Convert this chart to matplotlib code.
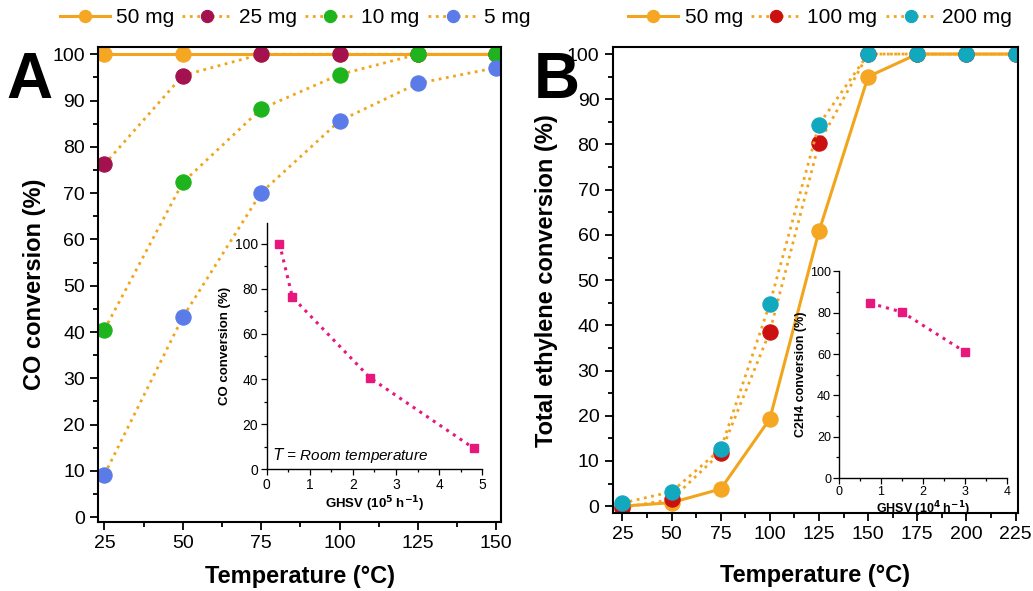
import matplotlib.pyplot as plt
from matplotlib.ticker import MultipleLocator

plt.rcParams['font.family'] = ['Liberation Sans', 'DejaVu Sans']

# panel A data
temp_a = [25, 50, 75, 100, 125, 150]
co_50mg = [100, 100, 100, 100, 100, 100]
co_25mg = [76.2, 95.4, 100, 100, 100, 100]
co_10mg = [40.5, 72.3, 88.2, 95.6, 100, 100]
co_5mg = [9.2, 43.2, 70.1, 85.6, 93.7, 97.1]

# inset A
ghsv_a = [0.3, 0.6, 2.4, 4.8]
co_ghsv = [100, 76.3, 40.5, 9.3]

# panel B data
temp_b = [25, 50, 75, 100, 125, 150, 175, 200, 225]
eth_50mg = [0, 0.8, 3.8, 19.3, 60.8, 95, 100, 100, 100]
eth_100mg = [-0.3, 1.5, 11.8, 38.6, 80.3, 100, 100, 100, 100]
eth_200mg = [0.7, 3.2, 12.6, 44.8, 84.4, 100, 100, 100, 100]

# inset B
ghsv_b = [0.75, 1.5, 3.0]
c2h4_ghsv = [84.5, 80.3, 61]

orange = "#F5A623"
line_orange = "#F2A51C"
pink = "#E8177D"

fig = plt.figure(figsize=(10.33, 5.91), dpi=100)
axA = fig.add_axes([0.095, 0.117, 0.390, 0.803])
axB = fig.add_axes([0.593, 0.132, 0.392, 0.788])


def style_main(ax):
    for s in ax.spines.values():
        s.set_linewidth(1.5)
    ax.tick_params(which="both", direction="out", width=1.3, labelsize=14, top=False, right=False)
    ax.tick_params(which="major", length=6)
    ax.tick_params(which="minor", length=3.5)


# ---- panel A
series_a = [(co_50mg, "50 mg", orange, "-"),
            (co_25mg, "25 mg", "#A3124F", ":"),
            (co_10mg, "10 mg", "#1EB41E", ":"),
            (co_5mg, "5 mg", "#5B7BE8", ":")]
for ys, lab, c, ls in series_a:
    axA.plot(temp_a, ys, ls=ls, color=line_orange, lw=2.2 if ls == "-" else 2.0,
             marker="o", ms=11, mfc=c, mec=c, mew=0.8, label=lab)
axA.set_xlim(23, 151.5)
axA.set_ylim(-1, 101.5)
axA.xaxis.set_major_locator(MultipleLocator(25))
axA.xaxis.set_minor_locator(MultipleLocator(12.5))
axA.yaxis.set_major_locator(MultipleLocator(10))
axA.yaxis.set_minor_locator(MultipleLocator(5))
style_main(axA)
axA.set_xlabel("Temperature (°C)", fontsize=17, fontweight="bold")
axA.set_ylabel("CO conversion (%)", fontsize=17, fontweight="bold")
axA.yaxis.set_label_coords(-0.13, 0.5)
axA.xaxis.set_label_coords(0.5, -0.09)
axA.legend(loc="lower left", bbox_to_anchor=(-0.145, 1.0), ncol=4, frameon=False,
           fontsize=15, handlelength=2.4, columnspacing=0.4, handletextpad=0.3,
           markerscale=0.8, borderaxespad=0.55)

# ---- panel B
series_b = [(eth_50mg, "50 mg", orange, "-"),
            (eth_100mg, "100 mg", "#CC1010", ":"),
            (eth_200mg, "200 mg", "#12A8BE", ":")]
for ys, lab, c, ls in series_b:
    axB.plot(temp_b, ys, ls=ls, color=line_orange, lw=2.2 if ls == "-" else 2.0,
             marker="o", ms=11, mfc=c, mec=c, mew=0.8, label=lab)
axB.set_xlim(20, 226)
axB.set_ylim(-1.5, 101.5)
axB.xaxis.set_major_locator(MultipleLocator(25))
axB.xaxis.set_minor_locator(MultipleLocator(12.5))
axB.yaxis.set_major_locator(MultipleLocator(10))
axB.yaxis.set_minor_locator(MultipleLocator(5))
style_main(axB)
axB.set_xlabel("Temperature (°C)", fontsize=17, fontweight="bold")
axB.set_ylabel("Total ethylene conversion (%)", fontsize=17, fontweight="bold")
axB.yaxis.set_label_coords(-0.135, 0.5)
axB.xaxis.set_label_coords(0.5, -0.11)
axB.legend(loc="lower left", bbox_to_anchor=(-0.01, 1.0), ncol=3, frameon=False,
           fontsize=15, handlelength=2.4, columnspacing=0.4, handletextpad=0.3,
           markerscale=0.8, borderaxespad=0.55)


def style_inset(ax):
    ax.spines["top"].set_visible(False)
    ax.spines["right"].set_visible(False)
    for s in ("left", "bottom"):
        ax.spines[s].set_linewidth(1.0)
    ax.tick_params(which="both", direction="out", labelsize=10, width=0.9, pad=2)
    ax.tick_params(which="major", length=4)
    ax.tick_params(which="minor", length=2.5)
    ax.patch.set_alpha(0)


# ---- inset A
insA = fig.add_axes([0.258, 0.206, 0.209, 0.416])
insA.plot(ghsv_a, co_ghsv, ls=":", color=pink, lw=2.2, marker="s", ms=6, mfc=pink, mec=pink)
insA.set_xlim(0, 5)
insA.set_ylim(0, 109)
insA.xaxis.set_major_locator(MultipleLocator(1))
insA.xaxis.set_minor_locator(MultipleLocator(0.5))
insA.yaxis.set_major_locator(MultipleLocator(20))
insA.yaxis.set_minor_locator(MultipleLocator(10))
style_inset(insA)
insA.set_xlabel("GHSV (10$^\\mathbf{5}$ h$^\\mathbf{-1}$)", fontsize=9.5, fontweight="bold", labelpad=2)
insA.set_ylabel("CO conversion (%)", fontsize=9.5, fontweight="bold", labelpad=3)
insA.text(0.15, 4, "$T$ = Room temperature", fontsize=11, style="italic")

# ---- inset B
insB = fig.add_axes([0.812, 0.191, 0.163, 0.350])
insB.plot(ghsv_b, c2h4_ghsv, ls=":", color=pink, lw=2.2, marker="s", ms=6, mfc=pink, mec=pink)
insB.set_xlim(0, 4)
insB.set_ylim(0, 100)
insB.xaxis.set_major_locator(MultipleLocator(1))
insB.xaxis.set_minor_locator(MultipleLocator(0.5))
insB.yaxis.set_major_locator(MultipleLocator(20))
insB.yaxis.set_minor_locator(MultipleLocator(10))
style_inset(insB)
insB.tick_params(labelsize=9, pad=1.5)
insB.set_xlabel("GHSV (10$^\\mathbf{4}$ h$^\\mathbf{-1}$)", fontsize=9, fontweight="bold", labelpad=1)
insB.set_ylabel("C2H4 conversion (%)", fontsize=9, fontweight="bold", labelpad=2)

fig.text(0.006, 0.835, "A", fontsize=46, fontweight="bold")
fig.text(0.517, 0.835, "B", fontsize=46, fontweight="bold")

fig.savefig("out.png", dpi=100)
